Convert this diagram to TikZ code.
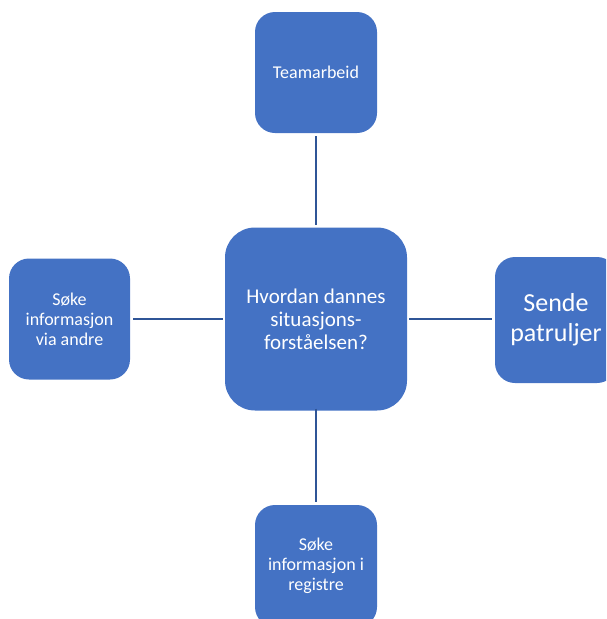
\documentclass[tikz,border=0pt]{standalone}
\usepackage{fontspec}
\setmainfont{Carlito}
\definecolor{boxblue}{HTML}{4472C4}
\definecolor{linkblue}{HTML}{2F5597}
\begin{document}
\begin{tikzpicture}[x=1pt,y=-1pt,
  topic/.style={fill=boxblue, draw=none, text=white, align=center,
    rounded corners=20pt, inner sep=0pt},
  hub/.style={topic, rounded corners=30pt},
  link/.style={draw=linkblue, line width=2.5pt}]
\useasboundingbox (0,0) rectangle (606,619);
\clip (0,0) rectangle (606,619);
% central question
\node[hub, minimum width=182pt, minimum height=183pt,
  font=\fontsize{21}{23}\selectfont] (c) at (316,319)
  {Hvordan dannes\\situasjons-\\forståelsen?};
% surrounding activities
\node[topic, minimum width=122pt, minimum height=121pt,
  font=\fontsize{18}{20}\selectfont] (t) at (316,72.5) {Teamarbeid};
\node[topic, minimum width=121pt, minimum height=121pt,
  font=\fontsize{18}{20}\selectfont] (l) at (69.5,319)
  {Søke\\informasjon\\via andre};
\node[topic, minimum width=122pt, minimum height=126pt,
  font=\fontsize{26}{30}\selectfont] (r) at (556,320)
  {Sende\\patruljer};
\node[topic, minimum width=122pt, minimum height=122pt,
  font=\fontsize{18}{20}\selectfont] (b) at (316,566)
  {Søke\\informasjon i\\registre};
% connectors
\draw[link] ([yshift=-3pt]t.south) -- ([yshift=2pt]c.north);
\draw[link] ([yshift=2pt]c.south) -- ([yshift=3pt]b.north);
\draw[link] ([xshift=3pt]l.east |- c.west) -- ([xshift=-2pt]c.west);
\draw[link] ([xshift=2pt]c.east) -- ([xshift=-3pt]r.west |- c.east);
\end{tikzpicture}
\end{document}
